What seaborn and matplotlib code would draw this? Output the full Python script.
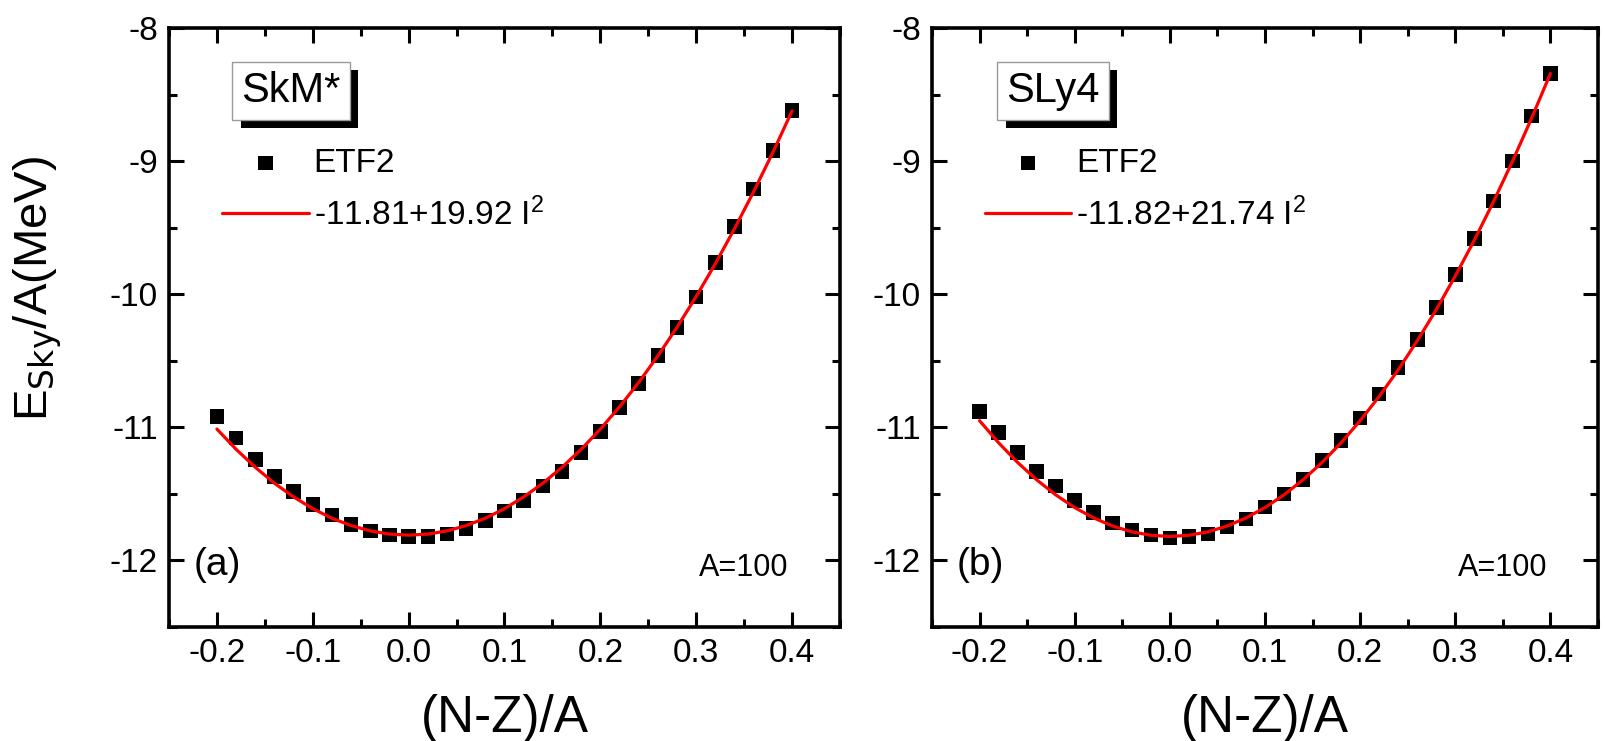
import matplotlib
matplotlib.use("Agg")
import matplotlib.pyplot as plt
import matplotlib.patheffects as pe
from matplotlib.ticker import MultipleLocator, FormatStrFormatter
import seaborn as sns
import pandas as pd

# ---------------- data ----------------
isospin = [-0.20, -0.18, -0.16, -0.14, -0.12, -0.10, -0.08, -0.06, -0.04, -0.02,
           0.00, 0.02, 0.04, 0.06, 0.08, 0.10, 0.12, 0.14, 0.16, 0.18,
           0.20, 0.22, 0.24, 0.26, 0.28, 0.30, 0.32, 0.34, 0.36, 0.38, 0.40]

etf2_skm = [-10.92, -11.08, -11.24, -11.37, -11.48, -11.58, -11.66, -11.73, -11.78, -11.81,
            -11.82, -11.82, -11.80, -11.76, -11.70, -11.63, -11.55, -11.44, -11.33, -11.19,
            -11.03, -10.85, -10.67, -10.46, -10.25, -10.02, -9.76, -9.49, -9.21, -8.92, -8.62]

fit_skm = [-11.013, -11.165, -11.300, -11.420, -11.523, -11.611, -11.683, -11.738, -11.778, -11.802,
           -11.810, -11.802, -11.778, -11.738, -11.683, -11.611, -11.523, -11.420, -11.300, -11.165,
           -11.013, -10.846, -10.663, -10.463, -10.248, -10.017, -9.770, -9.507, -9.228, -8.934, -8.623]

etf2_sly = [-10.88, -11.04, -11.19, -11.33, -11.44, -11.55, -11.64, -11.72, -11.77, -11.81,
            -11.83, -11.82, -11.80, -11.75, -11.69, -11.60, -11.50, -11.39, -11.25, -11.10,
            -10.93, -10.75, -10.55, -10.34, -10.10, -9.85, -9.58, -9.30, -9.00, -8.66, -8.34]

fit_sly = [-10.950, -11.116, -11.264, -11.394, -11.507, -11.603, -11.681, -11.742, -11.785, -11.811,
           -11.820, -11.811, -11.785, -11.742, -11.681, -11.603, -11.507, -11.394, -11.264, -11.116,
           -10.950, -10.768, -10.568, -10.350, -10.116, -9.863, -9.594, -9.307, -9.003, -8.681, -8.342]

forces = ["SkM*", "SLy4"]
fit_labels = ["-11.81+19.92 I$^2$", "-11.82+21.74 I$^2$"]
panel_tags = ["(a)", "(b)"]
mass_label = "A=100"
x_label = "(N-Z)/A"
y_label = "E$_{\\rm Sky}$/A(MeV)"

# ---------------- style ----------------
sns.set_theme(style="white")
plt.rcParams["font.family"] = ["Liberation Sans Narrow", "Liberation Sans", "DejaVu Sans"]
plt.rcParams["mathtext.default"] = "regular"
plt.rcParams["axes.unicode_minus"] = False
for key in ["text.color", "axes.labelcolor", "xtick.color", "ytick.color", "axes.edgecolor"]:
    plt.rcParams[key] = "black"

fig = plt.figure(figsize=(16.05, 7.41), dpi=100)
ax_rects = [[169 / 1605, 1 - 627 / 741, 671 / 1605, 599 / 741],
            [932 / 1605, 1 - 627 / 741, 666 / 1605, 599 / 741]]

datasets = [(etf2_skm, fit_skm), (etf2_sly, fit_sly)]

for i, rect in enumerate(ax_rects):
    ax = fig.add_axes(rect)
    pts, fit = datasets[i]
    df = pd.DataFrame({"x": isospin, "etf2": pts, "fit": fit})
    sns.scatterplot(data=df, x="x", y="etf2", ax=ax, marker="s", s=110,
                    color="black", edgecolor="none", linewidth=0, zorder=2,
                    label="ETF2")
    sns.lineplot(data=df, x="x", y="fit", ax=ax, color="#ff0000", lw=2.3,
                 sort=False, zorder=3, label=fit_labels[i])

    ax.set_xlim(-0.25, 0.45)
    ax.set_ylim(-12.5, -8)
    ax.xaxis.set_major_locator(MultipleLocator(0.1))
    ax.xaxis.set_minor_locator(MultipleLocator(0.05))
    ax.yaxis.set_major_locator(MultipleLocator(1))
    ax.yaxis.set_minor_locator(MultipleLocator(0.5))
    ax.xaxis.set_major_formatter(FormatStrFormatter("%.1f"))
    ax.yaxis.set_major_formatter(FormatStrFormatter("%d"))
    ax.tick_params(which="both", direction="in", top=True, right=True,
                   bottom=True, left=True, width=2.2, color="black")
    ax.tick_params(which="major", length=11, labelsize=24, pad=8)
    ax.tick_params(which="minor", length=6)
    for sp in ax.spines.values():
        sp.set_linewidth(2.6)
        sp.set_color("black")
    ax.set_xlabel("")
    ax.set_ylabel("")

    handles, labels = ax.get_legend_handles_labels()
    order = [labels.index("ETF2"), labels.index(fit_labels[i])]
    ax.legend([handles[j] for j in order], [labels[j] for j in order],
              loc="upper left", bbox_to_anchor=(0.079, 0.800), frameon=False,
              fontsize=24, handlelength=2.6, handletextpad=0.15,
              labelspacing=0.55, borderpad=0, borderaxespad=0)

    # force name box with drop shadow
    t = ax.text(0.182, 0.895, forces[i], transform=ax.transAxes, fontsize=30,
                color="black", ha="center", va="center", zorder=5,
                bbox=dict(boxstyle="square,pad=0.22", fc="white", ec="#999999", lw=1))
    t.get_bbox_patch().set_path_effects([
        pe.SimplePatchShadow(offset=(6, -6), shadow_rgbFace="black", alpha=1.0),
        pe.Normal()])

    ax.text(0.072, 0.104, panel_tags[i], transform=ax.transAxes, fontsize=28,
            ha="center", va="center")
    ax.text(0.857, 0.098, mass_label, transform=ax.transAxes, fontsize=22,
            ha="center", va="center")

    cx = rect[0] + rect[2] / 2
    fig.text(cx, 1 - 732 / 741, x_label, fontsize=37, ha="center", va="baseline")

fig.text(38 / 1605, 1 - 288 / 741, y_label, rotation=90, fontsize=34, ha="center",
         va="center")

fig.savefig("out.png", dpi=100, facecolor="white")
